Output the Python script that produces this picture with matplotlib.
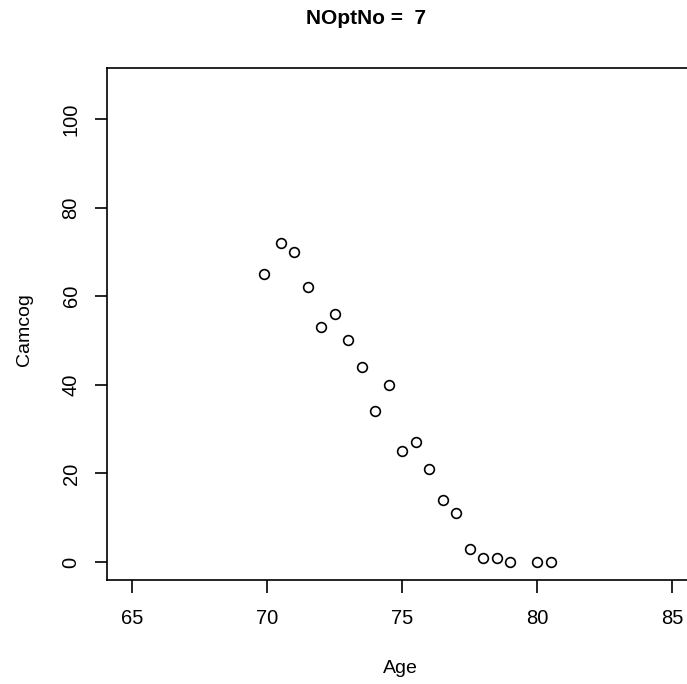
import matplotlib
matplotlib.use("Agg")
import matplotlib.pyplot as plt

plt.rcParams['font.family'] = ['Liberation Sans', 'DejaVu Sans']

age = [69.9, 70.5, 71.0, 71.5, 72.0, 72.5, 73.0, 73.5, 74.0, 74.5, 75.0,
       75.5, 76.0, 76.5, 77.0, 77.5, 78.0, 78.5, 79.0, 80.0, 80.5]
camcog = [65, 72, 70, 62, 53, 56, 50, 44, 34, 40, 25,
          27, 21, 14, 11, 3, 1, 1, 0, 0, 0]
x_ticks = [65, 70, 75, 80, 85]
y_ticks = [0, 20, 40, 60, 80, 100]
title = "NOptNo =  7"

W, H = 687, 684
fig = plt.figure(figsize=(W / 100, H / 100), dpi=100)
ax = fig.add_axes([107 / W, (H - 580) / H, 587 / W, 512 / H])

ax.plot(age, camcog, linestyle='none', marker='o', markersize=7,
        markerfacecolor='none', markeredgecolor='black', markeredgewidth=1.2)

ax.set_xlim(64.07, 85.8)
ax.set_ylim(-4.06, 111.5)
ax.set_xticks(x_ticks)
ax.set_yticks(y_ticks)
ax.set_xticklabels([str(v) for v in x_ticks])
ax.set_yticklabels([str(v) for v in y_ticks], rotation=90, va='center')

for s in ax.spines.values():
    s.set_linewidth(1.2)
ax.tick_params(axis='both', length=9, width=1.2, labelsize=14.5, color='black')
ax.tick_params(axis='x', pad=12)
ax.tick_params(axis='y', pad=10)

ax.set_xlabel("Age", fontsize=14)
ax.xaxis.set_label_coords((400 - 107) / 587, (580 - 660) / 512)
ax.set_ylabel("Camcog", fontsize=14)
ax.yaxis.set_label_coords((33 - 107) / 587, 0.49)

fig.text(366 / W, 1 - 19 / H, title, ha='center', va='center',
         fontsize=15, fontweight='bold')

fig.savefig("out.png", dpi=100)
